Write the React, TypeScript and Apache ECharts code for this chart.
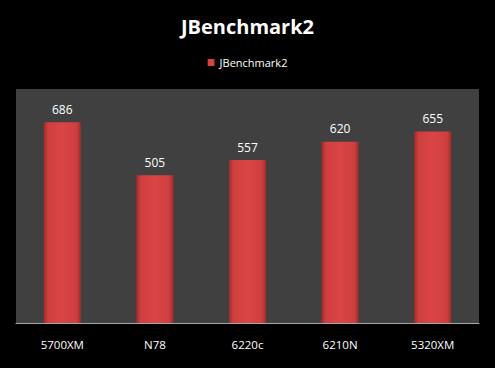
import React, { useEffect, useRef } from "react";
import * as echarts from "echarts";

const categories = ["5700XM", "N78", "6220c", "6210N", "5320XM"];
const values = [686, 505, 557, 620, 655];
const seriesName = "JBenchmark2";
const titleText = "JBenchmark2";

export default function App() {
  const ref = useRef<HTMLDivElement>(null);
  useEffect(() => {
    if (!ref.current) return;
    const chart = echarts.init(ref.current, null, { renderer: "svg" });
    chart.setOption({
      animation: false,
      backgroundColor: "#000000",
      title: {
        text: titleText,
        left: "center",
        top: 11,
        textStyle: {
          color: "#ffffff",
          fontFamily: "Open Sans",
          fontWeight: "bold",
          fontSize: 20,
        },
      },
      legend: {
        top: 52,
        left: "center",
        icon: "rect",
        itemWidth: 7,
        itemHeight: 7,
        itemGap: 4,
        textStyle: { color: "#ffffff", fontFamily: "Open Sans", fontSize: 11 },
        data: [seriesName],
      },
      grid: {
        left: 16,
        right: 16,
        top: 89,
        bottom: 45,
        show: true,
        backgroundColor: "#404040",
        borderWidth: 0,
      },
      xAxis: {
        type: "category",
        data: categories,
        axisLine: { lineStyle: { color: "#a6a6a6", width: 1 } },
        axisTick: { show: false },
        axisLabel: {
          color: "#ffffff",
          fontFamily: "Open Sans",
          fontSize: 11.5,
          margin: 15,
        },
      },
      yAxis: {
        type: "value",
        min: 0,
        max: 800,
        show: false,
        splitLine: { show: false },
      },
      series: [
        {
          name: seriesName,
          type: "bar",
          data: values,
          barWidth: 37,
          itemStyle: {
            color: new echarts.graphic.LinearGradient(0, 0, 1, 0, [
              { offset: 0, color: "#a02c2c" },
              { offset: 0.12, color: "#cf3f3f" },
              { offset: 0.5, color: "#db4444" },
              { offset: 0.88, color: "#cf3f3f" },
              { offset: 1, color: "#a02c2c" },
            ]),
          },
          label: {
            show: true,
            position: "top",
            distance: 7,
            color: "#ffffff",
            fontFamily: "Open Sans",
            fontSize: 12,
          },
        },
      ],
    });
    return () => chart.dispose();
  }, []);
  return (
    <div
      ref={ref}
      style={{ position: "absolute", left: 0, top: 0, width: 495, height: 368 }}
    />
  );
}
